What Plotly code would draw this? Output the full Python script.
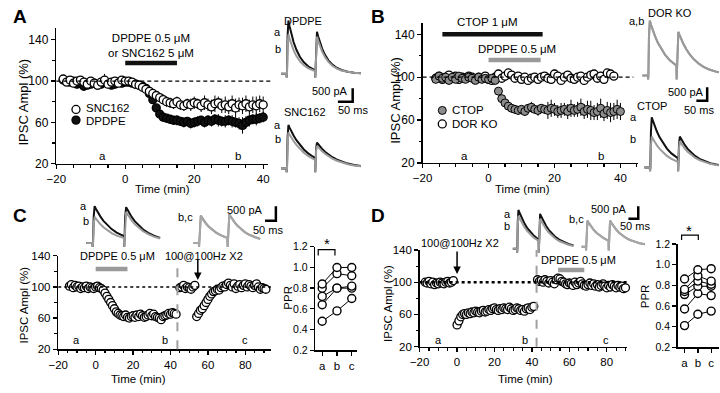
import plotly.graph_objects as go

W, H = 720, 393

# ======================= DATA =======================
# ---- Panel A ----
A_time = list(range(-18, 41))
A_snc162 = [102, 99, 101, 98, 100, 101, 99, 97, 100, 98, 96, 99, 101, 97, 99, 100, 98, 101, 100,
            100, 99, 97, 96, 94, 92, 90, 88, 86, 84, 82, 80, 79, 78, 80, 77, 76, 78, 77, 79,
            78, 76, 79, 77, 75, 78, 79, 76, 77, 75, 78, 74, 77, 76, 78, 75, 77, 76, 78, 77]
A_snc162_err = [2, 2, 3, 2, 2, 3, 2, 2, 3, 2, 3, 2, 6, 3, 2, 2, 3, 2, 2,
                2, 2, 3, 3, 3, 3, 4, 4, 4, 4, 5, 5, 5, 5, 5, 5, 5, 5, 6, 6,
                5, 6, 7, 6, 7, 8, 6, 7, 8, 7, 8, 9, 7, 8, 8, 7, 8, 9, 8, 8]
A_dpdpe = [101, 100, 99, 100, 97, 98, 95, 96, 97, 98, 96, 97, 99, 98, 96, 97, 99, 98, 99,
           99, 98, 97, 96, 95, 93, 88, 82, 74, 68, 65, 64, 63, 62, 62, 61, 60, 61, 59, 60,
           61, 62, 60, 62, 61, 63, 62, 61, 61, 62, 61, 60, 59, 57, 60, 62, 63, 63, 64, 65]
A_dpdpe_err = [2, 2, 2, 3, 2, 2, 3, 2, 2, 2, 3, 2, 2, 2, 3, 2, 2, 2, 2,
               2, 2, 3, 3, 3, 3, 3, 4, 4, 4, 4, 4, 4, 4, 5, 4, 5, 4, 5, 5,
               5, 4, 5, 5, 5, 5, 6, 5, 6, 5, 6, 5, 6, 8, 6, 6, 5, 6, 5, 5]
A_drug = [0, 15]

# ---- Panel B ----
B_ctop_time = list(range(-16, 41))
B_ctop = [98, 101, 99, 100, 97, 100, 98, 101, 99, 98, 100, 99, 97, 100, 98, 99, 98, 99, 97,
          87, 80, 76, 73, 71, 70, 69, 70, 68, 71, 72, 70, 69, 71, 70, 69, 71, 70, 68, 69,
          70, 68, 71, 69, 70, 72, 68, 70, 69, 67, 68, 71, 66, 69, 67, 68, 70, 68]
B_ctop_err = [3, 2, 3, 3, 2, 3, 2, 3, 3, 2, 3, 3, 2, 3, 2, 3, 3, 2, 3,
              3, 3, 3, 3, 4, 4, 4, 4, 4, 4, 5, 4, 5, 4, 4, 8, 8, 6, 6, 7,
              6, 7, 8, 6, 7, 8, 7, 8, 9, 7, 8, 9, 7, 8, 9, 8, 9, 8]
B_dorko_time = list(range(-16, 39))
B_dorko = [99, 101, 98, 100, 102, 99, 101, 98, 100, 99, 101, 100, 98, 100, 99, 101,
           98, 97, 100, 103, 99, 101, 104, 102, 99, 101, 98, 100, 97, 99, 100, 98, 100, 101, 99, 98,
           103, 101, 97, 100, 102, 99, 98, 100, 101, 97, 100, 102, 103, 99, 101, 98, 104, 103, 101]
B_dorko_err = [3, 3, 2, 3, 3, 2, 3, 3, 2, 3, 3, 2, 3, 3, 2, 3,
               3, 2, 3, 3, 3, 2, 3, 3, 2, 3, 3, 2, 3, 3, 2, 3, 3, 2, 3, 3,
               4, 3, 3, 4, 3, 3, 4, 3, 3, 4, 3, 4, 3, 3, 4, 3, 3, 4, 3]
B_ctop_drug = [-14, 16.4]
B_dpdpe_drug = [0, 15.8]

# ---- Panel C ----
C_t1 = list(range(-14, 44))
C_v1 = [101, 103, 99, 102, 100, 101, 98, 100, 99, 101, 98, 100, 99, 98, 100,
        101, 99, 98, 96, 92, 88, 84, 80, 76, 72, 68, 66, 64, 63, 62, 64, 61, 60, 62, 63,
        61, 64, 62, 65, 63, 61, 62, 64, 66, 63, 65, 62, 61, 60, 58, 62, 63, 64, 66, 65,
        67, 66, 65]
C_e1 = [3, 3, 2, 3, 2, 2, 3, 2, 2, 3, 2, 2, 3, 2, 2,
        2, 2, 3, 3, 3, 3, 3, 3, 3, 3, 3, 3, 3, 3, 3, 3, 3, 3, 3, 3,
        3, 3, 3, 3, 3, 3, 3, 3, 3, 3, 3, 3, 3, 3, 4, 3, 3, 3, 3, 3,
        3, 3, 3]
C_t2 = list(range(45, 54))
C_v2 = [99, 100, 102, 98, 100, 99, 97, 100, 102]
C_e2 = [2, 2, 3, 2, 2, 2, 3, 2, 2]
C_t3 = list(range(54, 92))
C_v3 = [62, 66, 70, 72, 76, 80, 84, 88, 91, 94, 95, 97, 96, 99, 101, 100, 103, 105, 102, 100,
        104, 98, 101, 103, 99, 102, 104, 100, 103, 101, 99, 102, 104, 100, 97, 99, 98, 97]
C_e3 = [5, 4, 4, 3, 3, 3, 3, 3, 3, 3, 3, 3, 3, 4, 3, 3, 4, 4, 3, 3,
        4, 3, 3, 4, 3, 3, 4, 3, 3, 3, 3, 3, 4, 3, 3, 3, 3, 3]
C_drug = [0, 17]
C_hfs = 54.6
C_split = 43.7

# ---- Panel D ----
D_t1 = list(range(-17, -1))
D_v1 = [100, 99, 101, 98, 100, 97, 99, 98, 100, 99, 98, 100, 101, 99, 100, 102]
D_e1 = [2, 2, 2, 2, 2, 2, 2, 2, 2, 2, 2, 2, 2, 2, 2, 2]
D_t2 = list(range(0, 42))
D_v2 = [47, 52, 57, 60, 61, 60, 62, 61, 63, 62, 64, 63, 62, 64, 65, 63, 64, 66, 65, 67,
        68, 66, 65, 67, 66, 68, 67, 66, 69, 67, 65, 66, 68, 67, 65, 66, 64, 67, 68, 66,
        69, 70]
D_e2 = [5, 4, 3, 3, 2, 2, 2, 2, 2, 2, 2, 2, 2, 2, 2, 2, 2, 2, 2, 2,
        2, 2, 2, 2, 2, 2, 2, 2, 2, 2, 2, 2, 2, 2, 2, 2, 2, 2, 2, 2, 2, 2]
D_t3 = list(range(43, 91))
D_v3 = [103, 101, 102, 100, 103, 101, 99, 102, 100, 98, 103, 105, 104, 101, 100, 98, 97, 99, 98, 96,
        100, 97, 99, 101, 98, 96, 95, 97, 99, 96, 98, 95, 97, 94, 96, 98, 95, 93, 96, 94,
        97, 95, 93, 96, 94, 95, 92, 93]
D_e3 = [2, 2, 2, 2, 2, 2, 2, 2, 2, 2, 2, 3, 2, 2, 2, 2, 2, 2, 2, 2,
        2, 2, 2, 2, 2, 2, 2, 2, 2, 2, 2, 2, 2, 2, 2, 2, 2, 2, 2, 2,
        2, 2, 2, 2, 2, 2, 2, 2]
D_drug = [54, 68]
D_hfs = 0
D_split = 42.5

# ---- Paired-pulse ratios ----
PPR_cats = ['a', 'b', 'c']
C_ppr_a = [0.48, 0.64, 0.72, 0.80, 0.84]
C_ppr_b = [0.58, 0.80, 0.80, 0.94, 1.00]
C_ppr_c = [0.70, 0.80, 0.82, 0.92, 1.00]
D_ppr_a = [0.41, 0.57, 0.71, 0.74, 0.76, 0.86]
D_ppr_b = [0.52, 0.72, 0.79, 0.84, 0.89, 0.95]
D_ppr_c = [0.55, 0.70, 0.79, 0.81, 0.84, 0.96]

# ---- Example IPSC traces (time in ms, current in pA) ----
trace_ms = [-20, -1, 0, 1, 3, 6, 10, 16, 24, 34, 46, 60, 76, 92, 99, 100, 101, 103, 106, 110,
            116, 124, 134, 146, 160, 176, 194, 214, 236, 260]
A_dpdpe_a = [0, 0, -150, 0, 1480, 2115, 1890, 1590, 1260, 950, 675, 455, 285, 180, 150, -150, 150, 1200, 1665, 1490,
             1250, 1000, 750, 530, 360, 225, 135, 75, 40, 20]
A_dpdpe_b = [0, 0, -150, 0, 1095, 1565, 1395, 1175, 935, 700, 500, 335, 210, 135, 110, -150, 110, 1060, 1473, 1315,
             1105, 880, 660, 470, 315, 200, 120, 68, 35, 18]
A_snc_a = [0, 0, -150, 0, 1210, 1730, 1625, 1480, 1310, 1125, 935, 755, 590, 460, 415, -150, 415, 800, 1023, 962,
           877, 775, 665, 552, 446, 349, 264, 194, 138, 96]
A_snc_b = [0, 0, -150, 0, 1005, 1435, 1350, 1230, 1090, 935, 775, 625, 490, 380, 345, -150, 345, 700, 896, 842,
           768, 679, 582, 484, 391, 306, 231, 170, 121, 84]
B_dor_a = [0, 0, -150, 0, 1530, 2190, 2035, 1825, 1580, 1315, 1060, 820, 615, 460, 400, -150, 400, 1300, 1740, 1620,
           1450, 1255, 1045, 840, 655, 490, 350, 245, 165, 105]
B_dor_b = [0, 0, -150, 0, 1520, 2180, 2025, 1815, 1570, 1310, 1055, 815, 610, 458, 398, -150, 398, 1290, 1730, 1610,
           1445, 1250, 1040, 835, 650, 488, 348, 243, 164, 104]
B_ctop_a = [0, 0, -150, 0, 1400, 2000, 1860, 1670, 1440, 1200, 965, 750, 560, 420, 370, -150, 370, 900, 1230, 1145,
            1025, 885, 740, 595, 460, 345, 250, 170, 115, 75]
B_ctop_b = [0, 0, -150, 0, 860, 1230, 1145, 1025, 885, 740, 595, 460, 345, 255, 225, -150, 225, 750, 1040, 965,
            865, 750, 625, 500, 390, 290, 210, 145, 98, 63]
C_tr_a = [0, 0, -150, 0, 950, 1357, 1260, 1130, 980, 815, 655, 510, 380, 285, 250, -150, 250, 950, 1320, 1230,
          1100, 950, 795, 640, 495, 370, 265, 185, 125, 80]
C_tr_b = [0, 0, -150, 0, 675, 964, 895, 805, 695, 580, 465, 360, 270, 200, 175, -150, 175, 800, 1143, 1065,
          955, 825, 685, 550, 430, 320, 230, 160, 107, 70]
C_tr_b2 = [0, 0, -150, 0, 705, 1010, 940, 840, 730, 605, 490, 380, 285, 210, 185, -150, 185, 750, 1070, 995,
           890, 770, 645, 515, 400, 300, 215, 150, 100, 65]
C_tr_c = [0, 0, -150, 0, 685, 980, 910, 815, 705, 590, 475, 365, 275, 205, 180, -150, 180, 735, 1050, 975,
          875, 755, 630, 505, 395, 295, 210, 147, 98, 63]
D_tr_a = [0, 0, -150, 0, 1080, 1540, 1450, 1320, 1165, 1000, 830, 670, 525, 410, 370, -150, 370, 1000, 1385, 1300,
          1190, 1050, 900, 750, 605, 470, 360, 265, 190, 130]
D_tr_b = [0, 0, -150, 0, 915, 1310, 1230, 1120, 995, 850, 705, 570, 445, 350, 315, -150, 315, 860, 1190, 1120,
          1020, 900, 775, 645, 520, 405, 305, 225, 160, 110]
D_tr_b2 = [0, 0, -150, 0, 730, 1040, 980, 890, 790, 675, 560, 455, 355, 275, 250, -150, 250, 760, 1040, 980,
           890, 790, 675, 560, 455, 355, 270, 200, 140, 100]
D_tr_c = [0, 0, -150, 0, 715, 1020, 960, 875, 775, 665, 550, 445, 350, 270, 245, -150, 245, 745, 1020, 960,
          875, 775, 665, 550, 445, 350, 265, 195, 138, 98]

# sanity checks
assert len(A_snc162) == len(A_time) == len(A_snc162_err) == len(A_dpdpe) == len(A_dpdpe_err)
assert len(B_ctop) == len(B_ctop_time) == len(B_ctop_err)
assert len(B_dorko) == len(B_dorko_time) == len(B_dorko_err)
assert len(C_v1) == len(C_t1) == len(C_e1)
assert len(C_v2) == len(C_t2) == len(C_e2)
assert len(C_v3) == len(C_t3) == len(C_e3)
assert len(D_v1) == len(D_t1) == len(D_e1)
assert len(D_v2) == len(D_t2) == len(D_e2)
assert len(D_v3) == len(D_t3) == len(D_e3)
for tr in [A_dpdpe_a, A_dpdpe_b, A_snc_a, A_snc_b, B_dor_a, B_dor_b, B_ctop_a, B_ctop_b,
           C_tr_a, C_tr_b, C_tr_b2, C_tr_c, D_tr_a, D_tr_b, D_tr_b2, D_tr_c]:
    assert len(tr) == len(trace_ms)

# ======================= FIGURE =======================
FONT = 'Liberation Sans, Arial, sans-serif'
FS = 11
BLACK = '#111111'
GRAY = '#9a9a9a'
fig = go.Figure()
layout = dict(width=W, height=H, autosize=False, margin=dict(l=0, r=0, t=0, b=0),
              paper_bgcolor='white', plot_bgcolor='rgba(0,0,0,0)', showlegend=False,
              font=dict(family=FONT, size=FS, color='black'))


def fx(x):
    return x / W


def fy(y):
    return 1 - y / H


def xaxis(box, rng, anchor, dtick=20, minor=5, fs=FS + 0.5, **kw):
    d = dict(domain=[fx(box[0]), fx(box[1])], range=rng, anchor=anchor, showline=True,
             linecolor='black', linewidth=1.5, ticks='outside', ticklen=4, tickwidth=1.3,
             tickcolor='black', showgrid=False, zeroline=False, fixedrange=True,
             tickfont=dict(size=fs, family=FONT), dtick=dtick, tick0=0)
    if minor:
        d['minor'] = dict(ticks='outside', ticklen=2.5, tickwidth=1.1, tickcolor='black',
                          dtick=minor, tick0=0, showgrid=False)
    d.update(kw)
    return d


def yaxis(box, rng, anchor, dtick=40, tick0=20, minor=20, fs=FS + 0.5, **kw):
    d = dict(domain=[fy(box[1]), fy(box[0])], range=rng, anchor=anchor, showline=True,
             linecolor='black', linewidth=1.5, ticks='outside', ticklen=4, tickwidth=1.3,
             tickcolor='black', showgrid=False, zeroline=False, fixedrange=True,
             tickfont=dict(size=fs, family=FONT), dtick=dtick, tick0=tick0)
    if minor:
        d['minor'] = dict(ticks='outside', ticklen=2.5, tickwidth=1.1, tickcolor='black',
                          dtick=minor, tick0=tick0, showgrid=False)
    d.update(kw)
    return d


# main axes
layout['xaxis'] = xaxis((47, 262), [-20, 41.4], 'y', fs=11.5)
layout['yaxis'] = yaxis((23, 163), [20, 151.2], 'x', fs=12)
layout['xaxis2'] = xaxis((419, 638), [-20, 45.4], 'y2', fs=11.5)
layout['yaxis2'] = yaxis((18, 162.3), [20, 150.2], 'x2', fs=12)
layout['xaxis3'] = xaxis((49, 265), [-20, 93.7], 'y3')
layout['yaxis3'] = yaxis((258.3, 355), [20, 140], 'x3')
layout['xaxis4'] = xaxis((310, 352), [-0.47, 2.33], 'y4', dtick=None, minor=None,
                         tickvals=[0, 1, 2], ticktext=PPR_cats)
layout['yaxis4'] = yaxis((249, 356), [0.2, 1.2], 'x4', dtick=0.2, tick0=0.2, minor=None,
                         tickformat='.1f', fs=10.5)
layout['xaxis5'] = xaxis((416, 627), [-20, 91.05], 'y5')
layout['yaxis5'] = yaxis((252.3, 352.3), [20, 140], 'x5')
layout['xaxis6'] = xaxis((678, 720), [-0.52, 2.59], 'y6', dtick=None, minor=None,
                         tickvals=[0, 1, 2], ticktext=PPR_cats)
layout['yaxis6'] = yaxis((246, 353), [0.2, 1.2], 'x6', dtick=0.2, tick0=0.2, minor=None,
                         tickformat='.1f', fs=10.5)

# inset (example trace) axes: box(px), first stimulus x px, baseline y px, px/ms, px/pA
insets = {
    7: dict(box=(266, 362, 4, 82), stim=281, base=70, sx=0.29, sy=0.026),
    8: dict(box=(266, 362, 108, 176), stim=281, base=168, sx=0.29, sy=0.026),
    9: dict(box=(628, 720, 4, 82), stim=648, base=72, sx=0.29, sy=0.026),
    10: dict(box=(628, 720, 104, 176), stim=650, base=167, sx=0.285, sy=0.026),
    11: dict(box=(70, 172, 198, 252), stim=84, base=245, sx=0.32, sy=0.028),
    12: dict(box=(178, 262, 198, 252), stim=192, base=245, sx=0.29, sy=0.028),
    13: dict(box=(502, 580, 198, 258), stim=515, base=251, sx=0.22, sy=0.026),
    14: dict(box=(574, 660, 198, 258), stim=585, base=249, sx=0.23, sy=0.026),
}
for n, c in insets.items():
    x0, x1, y0, y1 = c['box']
    layout[f'xaxis{n}'] = dict(domain=[fx(x0), fx(x1)], anchor=f'y{n}', visible=False, fixedrange=True,
                               range=[(x0 - c['stim']) / c['sx'], (x1 - c['stim']) / c['sx']])
    layout[f'yaxis{n}'] = dict(domain=[fy(y1), fy(y0)], anchor=f'x{n}', visible=False, fixedrange=True,
                               range=[(c['base'] - y1) / c['sy'], (c['base'] - y0) / c['sy']])

# overlay axis in pixel units (for scale bars, legend symbols, brackets)
layout['xaxis15'] = dict(domain=[0, 1], range=[0, W], anchor='y15', visible=False, fixedrange=True)
layout['yaxis15'] = dict(domain=[0, 1], range=[H, 0], anchor='x15', visible=False, fixedrange=True)


# ---------------- data traces ----------------
def series(t, v, e, ax, fill, line='black', lw=1.3):
    fig.add_trace(go.Scatter(
        x=t, y=v, mode='markers', xaxis=f'x{ax}' if ax > 1 else 'x', yaxis=f'y{ax}' if ax > 1 else 'y',
        marker=dict(symbol='circle', size=8, color=fill, line=dict(color=line, width=lw)),
        error_y=dict(type='data', array=e, color='black', thickness=1, width=0),
        hoverinfo='skip', cliponaxis=False))


series(A_time, A_dpdpe, A_dpdpe_err, 1, BLACK)
series(A_time, A_snc162, A_snc162_err, 1, 'white')
series(B_dorko_time, B_dorko, B_dorko_err, 2, 'white')
series(B_ctop_time, B_ctop, B_ctop_err, 2, '#8c8c8c', lw=1)
for t, v, e in [(C_t1, C_v1, C_e1), (C_t2, C_v2, C_e2), (C_t3, C_v3, C_e3)]:
    series(t, v, e, 3, 'white')
for t, v, e in [(D_t1, D_v1, D_e1), (D_t2, D_v2, D_e2), (D_t3, D_v3, D_e3)]:
    series(t, v, e, 5, 'white')

for ax, pa, pb, pc in [(4, C_ppr_a, C_ppr_b, C_ppr_c), (6, D_ppr_a, D_ppr_b, D_ppr_c)]:
    for ya, yb, yc in zip(pa, pb, pc):
        fig.add_trace(go.Scatter(
            x=[0, 1, 2], y=[ya, yb, yc], mode='lines+markers', xaxis=f'x{ax}', yaxis=f'y{ax}',
            line=dict(color='black', width=1),
            marker=dict(symbol='circle', size=8, color='white', line=dict(color='black', width=1.4)),
            hoverinfo='skip', cliponaxis=False))

# example traces
trace_sets = [
    (7, [(A_dpdpe_a, BLACK), (A_dpdpe_b, GRAY)], None),
    (8, [(A_snc_a, BLACK), (A_snc_b, GRAY)], None),
    (9, [(B_dor_a, '#8f8f8f'), (B_dor_b, GRAY)], None),
    (10, [(B_ctop_a, BLACK), (B_ctop_b, GRAY)], None),
    (11, [(C_tr_a, BLACK), (C_tr_b, GRAY)], 28),
    (12, [(C_tr_b2, '#8a8a8a'), (C_tr_c, '#a6a6a6')], 28),
    (13, [(D_tr_a, BLACK), (D_tr_b, GRAY)], None),
    (14, [(D_tr_b2, '#8a8a8a'), (D_tr_c, '#a6a6a6')], None),
]
for ax, lst, cut in trace_sets:
    for vals, col in lst:
        fig.add_trace(go.Scatter(
            x=trace_ms[:cut], y=vals[:cut], mode='lines', xaxis=f'x{ax}', yaxis=f'y{ax}',
            line=dict(color=col, width=2), hoverinfo='skip'))


# overlay: scale bars, legend symbols, significance brackets (pixel coordinates)
def pxline(xs, ys, w=2.5, col='black'):
    fig.add_trace(go.Scatter(x=xs, y=ys, mode='lines', xaxis='x15', yaxis='y15',
                             line=dict(color=col, width=w), hoverinfo='skip'))


pxline([333, 348, 348], [99, 99, 85])
pxline([697, 708, 708], [98, 98, 84])
pxline([259, 270, 270], [222, 222, 207])
pxline([628, 638, 638], [220, 220, 207])
pxline([313, 313, 330, 330], [258, 252, 252, 258], w=1.2)
pxline([682, 682, 699, 699], [242, 237, 237, 242], w=1.2)


def pxmarker(x, y, fill, lw=1.3):
    fig.add_trace(go.Scatter(x=[x], y=[y], mode='markers', xaxis='x15', yaxis='y15',
                             marker=dict(size=8, color=fill, line=dict(color='black', width=lw)),
                             hoverinfo='skip'))


pxmarker(67, 107, 'white')
pxmarker(67, 118, BLACK)
pxmarker(439, 108, '#8c8c8c', lw=1)
pxmarker(439, 122, 'white')

# ---------------- shapes ----------------
shapes = []


def hline_dash(ax, x0px, x1px, dash, width):
    shapes.append(dict(type='line', xref='paper', yref=f'y{ax}' if ax > 1 else 'y', x0=fx(x0px), x1=fx(x1px),
                       y0=100, y1=100, line=dict(color='black', width=width, dash=dash)))


hline_dash(1, 47, 267, '4px,3px', 1.2)
hline_dash(2, 419, 633, '4px,3px', 1.2)
hline_dash(3, 49, 265, '3px,3px', 1.6)
hline_dash(5, 416, 627, 'dot', 2.6)


def drugbar(ax, span, yval, col):
    shapes.append(dict(type='line', xref=f'x{ax}' if ax > 1 else 'x', yref=f'y{ax}' if ax > 1 else 'y',
                       x0=span[0], x1=span[1], y0=yval, y1=yval, line=dict(color=col, width=4.5)))


drugbar(1, A_drug, 117.5, BLACK)
drugbar(2, B_ctop_drug, 140, BLACK)
drugbar(2, B_dpdpe_drug, 116, GRAY)
drugbar(3, C_drug, 123, GRAY)
drugbar(5, D_drug, 115, GRAY)

for ax, xv, ytop, ybot in [(3, C_split, 258.3, 355), (5, D_split, 252.3, 352.3)]:
    shapes.append(dict(type='line', xref=f'x{ax}', yref='paper', x0=xv, x1=xv, y0=fy(ybot), y1=fy(ytop),
                       line=dict(color='#a0a0a0', width=2, dash='dash')))

# ---------------- annotations ----------------
ann = []


def txt(s, x, y, size=FS, xa='center', angle=0, bold=False):
    ann.append(dict(text=f'<b>{s}</b>' if bold else s, x=fx(x), y=fy(y), xref='paper', yref='paper',
                    xanchor=xa, yanchor='middle', showarrow=False, textangle=angle, borderpad=0,
                    font=dict(size=size, family=FONT, color='black')))


# panel letters
txt('A', 10, 11, 19, bold=True)
txt('B', 374, 11, 19, bold=True)
txt('C', 10, 217, 19, bold=True)
txt('D', 374, 217, 19, bold=True)

# panel A
txt('DPDPE 0.5 μM<br>or SNC162 5 μM', 143, 40.5, size=11.5)
txt('SNC162', 76, 106, xa='left', size=11.5)
txt('DPDPE', 76, 119, xa='left', size=11.5)
txt('a', 94, 155, size=11.5)
txt('b', 232, 155, size=11.5)
txt('IPSC Ampl (%)', 14, 99, angle=-90, size=13)
txt('Time (min)', 155, 189.5, size=11.5)
txt('DPDPE', 298, 15)
txt('a', 272, 27)
txt('b', 272, 44)
txt('SNC162', 300, 110)
txt('a', 272, 123)
txt('b', 272, 138)
txt('500 pA', 344, 88, xa='right')
txt('50 ms', 348, 108)

# panel B
txt('CTOP 1 μM', 485, 17, size=11.5)
txt('DPDPE 0.5 μM', 515, 44, size=11.5)
txt('CTOP', 448, 108, xa='left', size=11.5)
txt('DOR KO', 448, 122, xa='left', size=11.5)
txt('a', 462, 155, size=11.5)
txt('b', 600, 155, size=11.5)
txt('IPSC Ampl (%)', 392, 98, angle=-90, size=13)
txt('Time (min)', 520, 189.5, size=11.5)
txt('DOR KO', 670, 7)
txt('a,b', 636, 16)
txt('CTOP', 652, 103)
txt('a', 633, 115)
txt('b', 633, 138)
txt('500 pA', 706, 89, xa='right')
txt('50 ms', 700, 108)

# panel C
txt('DPDPE 0.5 μM', 109, 259)
txt('100@100Hz X2', 197, 259)
txt('a', 68, 345)
txt('b', 157, 345)
txt('c', 239, 345)
txt('IPSC Ampl (%)', 14, 309, angle=-90, size=FS + 0.5)
txt('Time (min)', 130, 386, size=FS + 0.5)
txt('a', 75, 207)
txt('b', 77, 222)
txt('b,c', 178, 218)
txt('500 pA', 258, 211, xa='right')
txt('50 ms', 262, 232)
txt('PPR', 282, 302, angle=-90, size=FS + 0.5)
txt('*', 322, 246, 15)

# panel D
txt('100@100Hz X2', 457, 245)
txt('DPDPE 0.5 μM', 577, 263)
txt('a', 435, 345)
txt('b', 523, 345)
txt('c', 605, 345)
txt('IPSC Ampl (%)', 384, 308, angle=-90, size=FS + 0.5)
txt('Time (min)', 523, 386, size=FS + 0.5)
txt('a', 505, 215)
txt('b', 505, 228)
txt('b,c', 575, 220)
txt('500 pA', 628, 210, xa='right')
txt('50 ms', 635, 228)
txt('PPR', 645, 300, angle=-90, size=FS + 0.5)
txt('*', 690, 232, 15)

# stimulation arrows
ann.append(dict(x=C_hfs, y=109, xref='x3', yref='y3', ax=0, ay=-22, text='', showarrow=True,
                arrowhead=2, arrowsize=1, arrowwidth=1.5, arrowcolor='black'))
ann.append(dict(x=D_hfs, y=110, xref='x5', yref='y5', ax=0, ay=-24, text='', showarrow=True,
                arrowhead=2, arrowsize=1, arrowwidth=1.5, arrowcolor='black'))

layout['shapes'] = shapes
layout['annotations'] = ann
fig.update_layout(**layout)
fig.write_html('out.html', config={'displayModeBar': False, 'staticPlot': True},
               post_script="document.body.style.margin='0px';document.body.style.overflow='hidden';")
